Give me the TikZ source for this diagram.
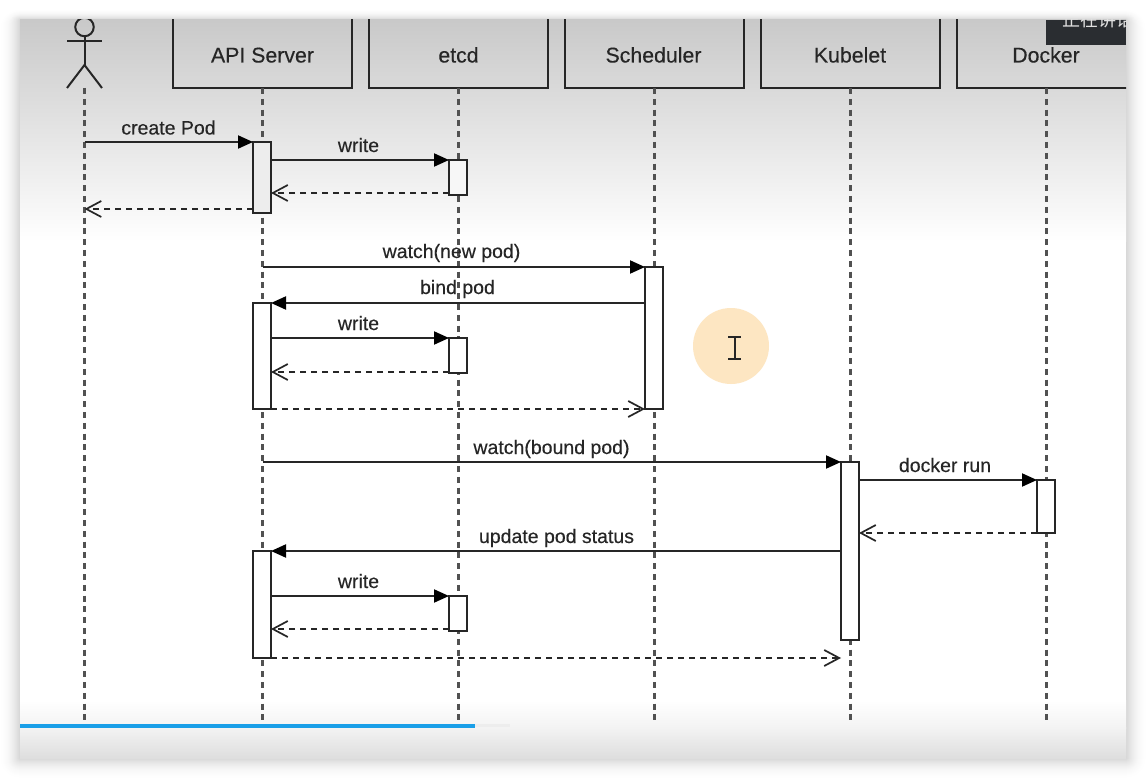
\documentclass[tikz,border=0pt]{standalone}
\usepackage{fontspec}
\setmainfont{Liberation Sans}[FakeBold=0.3]
\newfontfamily\cjkfont{Noto Sans CJK SC}
\usetikzlibrary{arrows.meta,calc}
\definecolor{ink}{HTML}{262626}
\definecolor{wintop}{HTML}{C9C9C9}
\definecolor{winmid}{HTML}{F3F3F3}
\definecolor{winbot}{HTML}{DEDEDE}
\definecolor{hilite}{HTML}{FDE6C2}
\definecolor{barblue}{HTML}{1A9FE8}
\definecolor{capbox}{HTML}{2A2D31}
\tikzset{
  hdr/.style={draw=ink,line width=2.1pt,minimum width=179pt,minimum height=78pt,inner sep=0pt,outer sep=0pt},
  hdrtext/.style={text=ink,inner sep=0pt,anchor=base,font=\fontsize{21.3}{24}\selectfont},
  lifeline/.style={draw=ink!80!white,line width=2.2pt,dash pattern=on 6pt off 4.8pt},
  bar/.style={draw=ink,line width=2pt,fill=white,minimum width=18pt,inner sep=0pt,outer sep=0pt},
  msg/.style={draw=ink,line width=2pt,-{Triangle[length=15pt,width=13pt,color=black]}},
  ret/.style={draw=ink,line width=2pt,dash pattern=on 6pt off 5pt,-{Straight Barb[length=15pt,width=16pt,line width=1.7pt]}},
  lbl/.style={text=ink,inner sep=0pt,anchor=base,font=\fontsize{19.5}{22}\selectfont},
  stick/.style={draw=ink,line width=2pt}
}
\begin{document}
\begin{tikzpicture}[x=1pt,y=-1pt]
\useasboundingbox (0,0) rectangle (1146,778);
\fill[white] (0,0) rectangle (1146,778);
% soft shadow of the window, drawn as solid steps from outside in
\foreach \g in {20,19,...,1}{
  \pgfmathsetmacro{\shadeval}{17*(1-\g/21)^2}
  \fill[black!\shadeval!white,rounded corners=\g pt] (20-\g,20-\g*0.5) rectangle (1126+\g,758+\g);
}
\begin{scope}
\clip (20,20) rectangle (1126,758);
\shade[top color=wintop,bottom color=white] (20,20) rectangle (1126,242);
\fill[white] (20,241) rectangle (1126,700);
\shade[top color=white,bottom color=winmid] (20,700) rectangle (1126,728);
\shade[top color=winmid,bottom color=winbot] (20,727.5) rectangle (1126,758);

% header boxes
\node[hdr] (api) at (262.5,49) {};
\node[hdr] (etcd) at (458.5,49) {};
\node[hdr] (sched) at (654.5,49) {};
\node[hdr] (kube) at (850.5,49) {};
\node[hdr] (dock) at (1046.5,49) {};
\node[hdrtext] (tapi) at (262.5,62.5) {API Server};
\node[hdrtext] (tetcd) at (458.5,62.5) {etcd};
\node[hdrtext] (tsched) at (653.5,62.5) {Scheduler};
\node[hdrtext] (tkube) at (850,62.5) {Kubelet};
\node[hdrtext] (tdock) at (1046,62.5) {Docker};

% actor
\coordinate (hip) at (84.5,65);
\coordinate (actorfoot) at (84.5,88);
\node[draw=ink,line width=2pt,circle,minimum size=18.5pt,inner sep=0pt,outer sep=0pt] (head) at (84.5,27) {};
\draw[stick] (head.south) -- (hip);
\draw[stick] (67,41) -- (102,41);
\draw[stick] (67,88) -- (hip) -- (102,88);

% lifelines
\coordinate (endactor) at (84.5,724);
\coordinate (endapi) at (262.5,724);
\coordinate (endetcd) at (458.5,724);
\coordinate (endsched) at (654.5,724);
\coordinate (endkube) at (850.5,724);
\coordinate (enddock) at (1046.5,724);
\draw[lifeline] (actorfoot) -- (endactor);
\draw[lifeline] (api.south) -- (endapi);
\draw[lifeline] (etcd.south) -- (endetcd);
\draw[lifeline] (sched.south) -- (endsched);
\draw[lifeline] (kube.south) -- (endkube);
\draw[lifeline] (dock.south) -- (enddock);

% activation bars
\node[bar,minimum height=71pt,fill=white!93!black] (api1) at (262,177.5) {};
\node[bar,minimum height=35pt,fill=white!97!black] (etcd1) at (458,177.5) {};
\node[bar,minimum height=142pt] (sched1) at (654,338) {};
\node[bar,minimum height=106pt] (api2) at (262,356) {};
\node[bar,minimum height=35pt] (etcd2) at (458,355.5) {};
\node[bar,minimum height=178pt] (kube1) at (850,551) {};
\node[bar,minimum height=53pt] (dock1) at (1046,506.5) {};
\node[bar,minimum height=107pt] (api3) at (262,604.5) {};
\node[bar,minimum height=35pt] (etcd3) at (458,613.5) {};

% messages
\draw[msg] (endactor |- api1.north) -- (api1.north west);
\draw[msg] (api1.east |- etcd1.north) -- (etcd1.north west);
\draw[ret] (etcd1.west |- 0,193) -- (api1.east |- 0,193);
\draw[ret] (api1.west |- 0,209) -- (endactor |- 0,209);

\draw[msg] (api.south |- sched1.north) -- (sched1.north west);
\draw[msg] (sched1.west |- api2.north) -- (api2.north east);
\draw[msg] (api2.east |- etcd2.north) -- (etcd2.north west);
\draw[ret] (etcd2.west |- 0,372) -- (api2.east |- 0,372);
\draw[ret] (api2.south east) -- (sched1.south west);

\draw[msg] (api.south |- kube1.north) -- (kube1.north west);
\draw[msg] (kube1.east |- dock1.north) -- (dock1.north west);
\draw[ret] (dock1.south west) -- (kube1.east |- dock1.south);
\draw[msg] (kube1.west |- api3.north) -- (api3.north east);
\draw[msg] (api3.east |- etcd3.north) -- (etcd3.north west);
\draw[ret] (etcd3.west |- 0,629) -- (api3.east |- 0,629);
\draw[ret] (api3.south east) -- (kube1.west |- api3.south);

% message labels
\node[lbl] (l1) at (168.5,134.5) {create Pod};
\node[lbl] (l2) at (358.5,152) {write};
\node[lbl] (l3) at (451.5,258) {watch(new pod)};
\node[lbl] (l4) at (457.5,294) {bind pod};
\node[lbl] (l5) at (358.5,330) {write};
\node[lbl] (l6) at (551.5,454) {watch(bound pod)};
\node[lbl] (l7) at (945,472) {docker run};
\node[lbl] (l8) at (556.5,543) {update pod status};
\node[lbl] (l9) at (358.5,588) {write};

% pointer highlight and I-beam cursor
\node[circle,fill=hilite,minimum size=76pt,inner sep=0pt] (spot) at (731,346) {};
\draw[ink,line width=2pt] (728,336.5) -- (741,336.5) (734.5,336.5) -- (734.5,359) (728,359) -- (741,359);

% progress bar
\fill[white!92!black,opacity=.7] (475,724) rectangle (510,727);
\fill[barblue] (20,724) rectangle (475,728);

% caption box
\fill[capbox] (1046,20) rectangle (1126,45);
\node[text=white!88!black,inner sep=0pt,anchor=west,font=\cjkfont\fontsize{18}{20}\selectfont] (caption) at (1062,20) {正在讲话};
\end{scope}
\end{tikzpicture}
\end{document}
